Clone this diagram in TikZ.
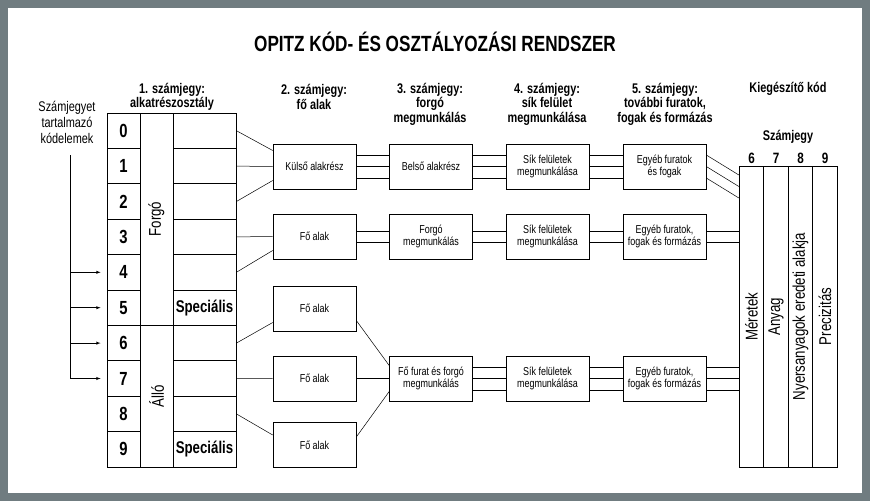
\documentclass[tikz,border=0pt]{standalone}
\usepackage{fontspec}
\setmainfont[FakeStretch=0.78]{Liberation Sans}
\usetikzlibrary{calc}
\definecolor{framegray}{RGB}{112,124,128}
\tikzset{
  cell/.style={draw, line width=0.8pt, inner sep=0pt, minimum height=35.4pt},
  digit/.style={cell, minimum width=33pt, font=\bfseries\fontsize{19}{19}\selectfont},
  spec/.style={cell, minimum width=63pt, font=\bfseries\fontsize{17}{17}\selectfont},
  box/.style={draw, line width=0.6pt, minimum width=83pt, minimum height=45pt, inner sep=1pt, align=center, font=\fontsize{11.5}{12.5}\selectfont},
  head/.style={align=center, font=\bfseries\fontsize{14}{14.5}\selectfont},
  link/.style={line width=0.5pt},
  vert/.style={rotate=90, font=\fontsize{17}{17}\selectfont}
}
\begin{document}
\begin{tikzpicture}[x=1pt, y=-1pt, >=latex]
% frame
\fill[framegray] (0,0) rectangle (870,501);
\fill[white] (8,8) rectangle (862,493);
\useasboundingbox (0,0) rectangle (870,501);

\node[font=\bfseries\fontsize{22}{22}\selectfont] (title) at (435,42) {OPITZ KÓD- ÉS OSZTÁLYOZÁSI RENDSZER};

% Headers
\node[head] (h1) at (172,97) {1. számjegy:\\alkatrészosztály};
\node[head] (h2) at (314,97) {2. számjegy:\\fő alak};
\node[head] (h3) at (430,104) {3. számjegy:\\forgó\\megmunkálás};
\node[head] (h4) at (547,104) {4. számjegy:\\sík felület\\megmunkálása};
\node[head] (h5) at (665,104) {5. számjegy:\\további furatok,\\fogak és formázás};
\node[head] (h6) at (788,89) {Kiegészítő kód};
\node[head] (h7) at (788,137) {Számjegy};
\node[align=center, font=\fontsize{14}{16}\selectfont] (lbl) at (67,122) {Számjegyet\\tartalmazó\\kódelemek};

% Table
\foreach \i in {0,...,9} {
  \node[digit] (d\i) at (123.5,{113+35.4*(\i+0.5)}) {\i};
  \node[spec] (r\i) at (204.5,{113+35.4*(\i+0.5)}) {};
}
\node[spec] at (r5) {Speciális};
\node[spec] at (r9) {Speciális};
\draw[line width=0.8pt] (140,113) rectangle (173,325) (140,325) rectangle (173,467);
\node[vert] (forgo) at (156.5,219) {Forgó};
\node[vert] (allo) at (156.5,396) {Álló};

% arrows
\coordinate (top) at (70,155);
\draw[link] (top) -- (70,378);
\foreach \i in {4,5,6,7}
  \draw[link,->] (70,{113+35.4*(\i+0.5)}) -- ($(d\i.west)+(-6,0)$);

% Boxes
\node[box] (K) at (314.5,166.5) {Külső alakrész};
\node[box] (F1) at (314.5,236.5) {Fő alak};
\node[box] (F2) at (314.5,308.5) {Fő alak};
\node[box] (F3) at (314.5,378.5) {Fő alak};
\node[box] (F4) at (314.5,445) {Fő alak};
\node[box] (B1) at (431,166.5) {Belső alakrész};
\node[box] (B2) at (431,236.5) {Forgó\\megmunkálás};
\node[box] (B3) at (431,378.5) {Fő furat és forgó\\megmunkálás};
\foreach \j in {1,2,3} {
  \node[box] (S\j) at (547.5,{\j==1 ? 166.5 : (\j==2 ? 236.5 : 378.5)}) {Sík felületek\\megmunkálása};
}
\node[box] (E1) at (664.5,166.5) {Egyéb furatok\\és fogak};
\node[box] (E2) at (664.5,236.5) {Egyéb furatok,\\fogak és formázás};
\node[box] (E3) at (664.5,378.5) {Egyéb furatok,\\fogak és formázás};

% Supplementary block
\foreach \c/\x/\t in {6/751.5/Méretek,7/776/Anyag,8/800.5/Nyersanyagok eredeti alakja,9/825/Precizitás} {
  \node[draw, line width=0.8pt, minimum width=24.5pt, minimum height=301pt, inner sep=0pt] (C\c) at (\x,316.5) {};
  \node[vert] at (C\c) {\t};
  \node[font=\bfseries\fontsize{15}{15}\selectfont] (n\c) at (\x,158) {\c};
}

% Links column 1 -> 2
\draw[link] (r0.east) -- ($(K.west)+(0,-16)$);
\draw[link] (r1.east) -- (K.west);
\draw[link] (r2.east) -- ($(K.west)+(0,14)$);
\draw[link] (r3.east) -- (F1.west);
\draw[link] (r4.east) -- ($(F1.west)+(0,14)$);
\draw[link] (r6.east) -- ($(F2.west)+(0,14)$);
\draw[link] (r7.east) -- (F3.west);
\draw[link] (r8.east) -- ($(F4.west)+(0,-10)$);
\draw[link] ($(F2.east)+(0,12)$) -- ($(B3.west)+(0,-13)$);
\draw[link] (F3.east) -- (B3.west);
\draw[link] ($(F4.east)+(0,-8)$) -- ($(B3.west)+(0,13)$);

% parallel links
\foreach \a/\b in {K/B1,B1/S1,S1/E1,B3/S3,S3/E3,E3/C6}
  \foreach \d in {-11.5,0,11.5}
    \draw[link] ($(\a.east)+(0,\d)$) -- ($(\b.west|-\a.east)+(0,\d)$);
\foreach \a/\b in {F1/B2,B2/S2,S2/E2,E2/C6}
  \foreach \d in {-5,6}
    \draw[link] ($(\a.east)+(0,\d)$) -- ($(\b.west|-\a.east)+(0,\d)$);
\foreach \d in {-11.5,0,11.5}
  \draw[link] ($(E1.east)+(0,\d)$) -- ($(C6.west|-E1.east)+(0,\d+20)$);
\end{tikzpicture}
\end{document}
